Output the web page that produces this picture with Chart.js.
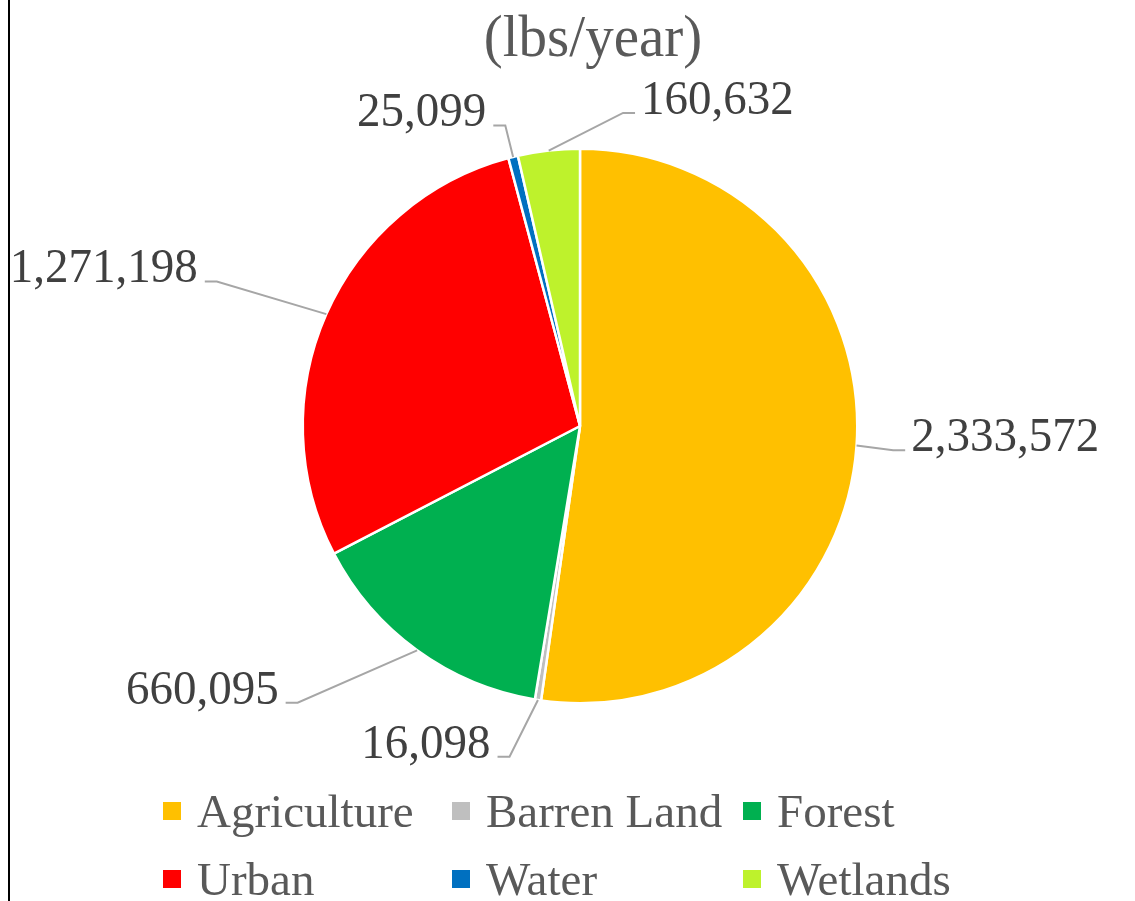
<!DOCTYPE html>
<html>
<head>
<meta charset="utf-8">
<title>Load by land use</title>
<script src="https://cdn.jsdelivr.net/npm/chart.js@4/dist/chart.umd.min.js"></script>
<style>
  html, body { margin: 0; padding: 0; background: #fff; }
  #wrap { position: relative; width: 1135px; height: 901px; overflow: hidden; font-family: 'Liberation Serif', 'Times New Roman', serif; }
  #edge { position: absolute; left: 8px; top: 0; width: 2px; height: 901px; background: #000; }
  #title { position: absolute; left: 0; width: 1186px; top: 7px; text-align: center; font-size: 57px; line-height: 57px; color: #595959; transform: scaleY(1.05); }
  #canvasBox { position: absolute; left: 0; top: 0; width: 1135px; height: 901px; }
  #legend { position: absolute; left: 163px; top: 787px; display: grid; grid-template-columns: 289px 291px 300px; row-gap: 20px; }
  .item { display: flex; align-items: center; font-size: 47px; line-height: 48px; color: #595959; white-space: nowrap; }
  .swatch { width: 18px; height: 18px; margin-right: 16px; flex: none; }
</style>
</head>
<body>
<div id="wrap">
  <div id="edge"></div>
  <div id="canvasBox"><canvas id="pie"></canvas></div>
  <div id="title">(lbs/year)</div>
  <div id="legend"></div>
</div>
<script>
/* ── Дані ── */
var categories = ['Agriculture', 'Barren Land', 'Forest', 'Urban', 'Water', 'Wetlands'];
var loads      = [2333572, 16098, 660095, 1271198, 25099, 160632];
var colours    = ['#FFC000', '#BFBFBF', '#00B050', '#FF0000', '#0070C0', '#BEF22C'];

/* Винесення підписів: зсув кута (град.) і відстань відносно радіуса */
var labelShift = [0.4, 3.3, 9.6, -2.1, 0, 14.3];
var labelReach = [1.133, 1.22, 1.426, 1.41, 1.117, 1.14];

/* ── Підписи з виносними лініями ── */
var leaderLabels = {
    id: 'leaderLabels',
    afterDatasetsDraw: function ( chart, args, opts ) {
        var ctx  = chart.ctx;
        var meta = chart.getDatasetMeta( 0 );
        var vals = chart.data.datasets[0].data;
        ctx.save();
        ctx.font = opts.font;
        ctx.fillStyle = opts.color;
        ctx.strokeStyle = opts.lineColor;
        ctx.lineWidth = 2;
        meta.data.forEach( function ( arc, i ) {
            var p   = arc.getProps( ['x', 'y', 'startAngle', 'endAngle', 'outerRadius'], true );
            var mid = ( p.startAngle + p.endAngle ) / 2;
            var sx  = p.x + Math.cos( mid ) * p.outerRadius;
            var sy  = p.y + Math.sin( mid ) * p.outerRadius;
            var a   = mid + opts.shift[i] * Math.PI / 180;
            var r   = p.outerRadius * opts.reach[i];
            var ex  = p.x + Math.cos( a ) * r;
            var ey  = p.y + Math.sin( a ) * r;
            var right = ex > p.x;
            var hx  = ex + ( right ? 12 : -12 );
            ctx.beginPath();
            ctx.moveTo( sx, sy );
            ctx.lineTo( ex, ey );
            ctx.lineTo( hx, ey );
            ctx.stroke();
            ctx.textAlign = right ? 'left' : 'right';
            ctx.textBaseline = 'alphabetic';
            // трохи витягнутий по вертикалі шрифт, як в оригіналі
            ctx.save();
            ctx.translate( hx + ( right ? 6 : -7 ), ey + 1 );
            ctx.scale( 1, 1.05 );
            ctx.fillText( vals[i].toLocaleString( 'en-US' ), 0, 0 );
            ctx.restore();
        } );
        ctx.restore();
    }
};

/* ── Легенда ── */
var legendEl = document.getElementById( 'legend' );
categories.forEach( function ( name, i ) {
    var item = document.createElement( 'div' );
    item.className = 'item';
    item.innerHTML = '<span class="swatch" style="background:' + colours[i] + '"></span><span>' + name + '</span>';
    legendEl.appendChild( item );
} );

/* ── Графік ── */
new Chart( document.getElementById( 'pie' ), {
    type: 'pie',
    data: {
        labels: categories,
        datasets: [ {
            data: loads,
            backgroundColor: colours,
            borderColor: '#ffffff',
            borderWidth: 2.5
        } ]
    },
    options: {
        responsive: true,
        maintainAspectRatio: false,
        animation: false,
        layout: { padding: { left: 301.5, right: 276.5, top: 147.5, bottom: 196.5 } },
        plugins: {
            legend: { display: false },
            title: { display: false },
            tooltip: { enabled: false },
            leaderLabels: {
                font: '47px "Liberation Serif", "Times New Roman", serif',
                color: '#404040',
                lineColor: '#A6A6A6',
                shift: labelShift,
                reach: labelReach
            }
        }
    },
    plugins: [ leaderLabels ]
} );
</script>
</body>
</html>
